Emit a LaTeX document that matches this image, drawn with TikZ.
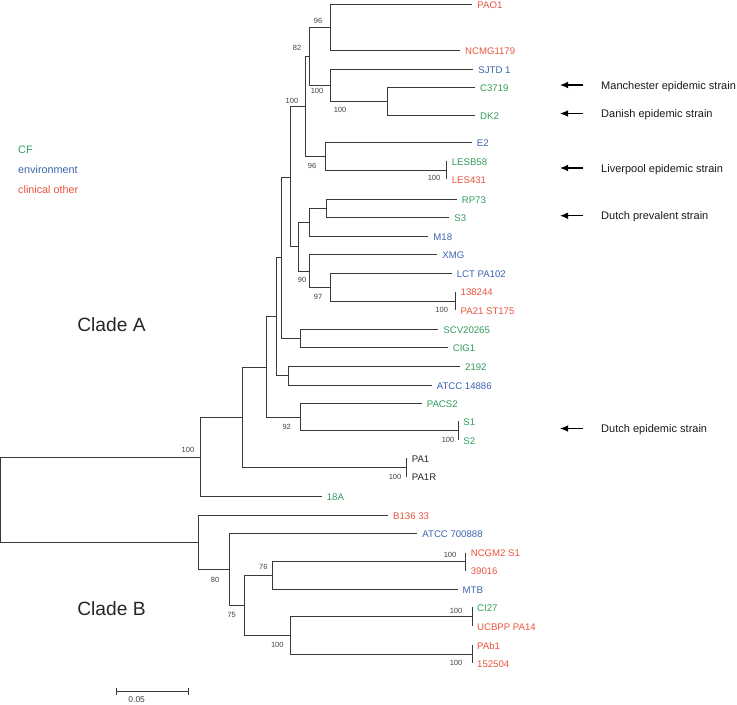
\documentclass[tikz,border=0pt]{standalone}
\usepackage{fontspec}
\setmainfont{Liberation Sans}
\usepackage{xcolor}
\usepackage{tikz}
\usetikzlibrary{arrows.meta,calc}
\definecolor{cfgreen}{HTML}{2F9A5C}
\definecolor{envblue}{HTML}{3A62B0}
\definecolor{clinred}{HTML}{E9533D}
\definecolor{treegray}{HTML}{3A3A3A}
\tikzset{
  branch/.style={draw=treegray, line width=0.6pt},
  leaf/.style={anchor=west, inner xsep=4.2pt, inner ysep=0pt, text height=0.72em,
    text depth=0pt, font=\fontsize{8.2}{9}\selectfont},
  cf/.style={leaf, text=cfgreen},
  env/.style={leaf, text=envblue},
  clin/.style={leaf, text=clinred},
  plain/.style={leaf, text=black!85},
  boot/.style={inner sep=0pt, text=black!75, font=\fontsize{6.4}{7}\selectfont},
  strainlbl/.style={anchor=west, inner sep=0pt, text height=0.72em, text depth=0pt,
    text=black!90, font=\fontsize{9.4}{11}\selectfont},
  strainarrow/.style={-{Latex[length=2.4mm,width=2mm]}, line width=1pt, draw=black},
  clade/.style={inner sep=0pt, text=black!85, font=\fontsize{16.4}{18}\selectfont},
  legendlbl/.style={anchor=west, inner sep=0pt, text height=0.72em, text depth=0pt,
    font=\fontsize{9.2}{11}\selectfont}
}
\begin{document}
\begin{tikzpicture}[x=0.03cm, y=-0.03cm]
    \useasboundingbox (0,0) rectangle (737,704);

    % internal nodes of the tree
    \coordinate (root) at (0,499.5);
    \coordinate (cladeA) at (200,457.1);
    \coordinate (cladeB) at (198,542);
    \coordinate (nU) at (242.7,417.5);
    \coordinate (nV) at (266.7,367.5);
    \coordinate (nW) at (276.7,316.6);
    \coordinate (nZ) at (281.7,257.7);
    \coordinate (nY) at (290,177);
    \coordinate (nX) at (305,106.5);
    \coordinate (n82) at (309,56);
    \coordinate (n96) at (330,27.4);
    \coordinate (n100a) at (330,85);
    \coordinate (n100b) at (387,101.7);
    \coordinate (n96e) at (325.7,156.5);
    \coordinate (nQ) at (298,246.5);
    \coordinate (nP) at (309.3,222.2);
    \coordinate (nRS) at (326,208.5);
    \coordinate (n90) at (309.3,270.9);
    \coordinate (n97) at (330,287.4);
    \coordinate (nSCV) at (300,338.2);
    \coordinate (n2192) at (288.3,375.5);
    \coordinate (n92) at (300,416.9);
    \coordinate (n80) at (229,569.2);
    \coordinate (n75) at (244,605.5);
    \coordinate (n76) at (272,575.5);
    \coordinate (n100c) at (290,635.5);

    % leaves
    \node[clin] (pao1) at (472.3,4) {PAO1};
    \node[clin] (ncmg) at (460,50.7) {NCMG1179};
    \node[env] (sjtd) at (473.3,69.3) {SJTD 1};
    \node[cf] (c3719) at (475,87.7) {C3719};
    \node[cf] (dk2) at (475,115.7) {DK2};
    \node[env] (e2) at (471.7,142.7) {E2};
    \node[cf] (lesb58) at (446.7,161.3) {LESB58};
    \node[clin] (les431) at (446.7,179.3) {LES431};
    \node[cf] (rp73) at (456.7,199.3) {RP73};
    \node[cf] (s3) at (449.3,217.7) {S3};
    \node[env] (m18) at (428.3,236) {M18};
    \node[env] (xmg) at (437.3,254.3) {XMG};
    \node[env] (lct) at (451.7,273.3) {LCT PA102};
    \node[clin] (p138) at (455.5,291.7) {138244};
    \node[clin] (pa21) at (455.5,310) {PA21 ST175};
    \node[cf] (scv) at (438.3,329) {SCV20265};
    \node[cf] (cig1) at (447.7,347.3) {CIG1};
    \node[cf] (p2192) at (460,366) {2192};
    \node[env] (atcc14886) at (431.7,385) {ATCC 14886};
    \node[cf] (pacs2) at (421.7,403.3) {PACS2};
    \node[cf] (s1) at (458.3,421) {S1};
    \node[cf] (s2) at (458.3,440) {S2};
    \node[plain] (pa1) at (406.7,458.3) {PA1};
    \node[plain] (pa1r) at (406.7,476.7) {PA1R};
    \node[cf] (p18a) at (321.7,496.7) {18A};
    \node[clin] (b136) at (388,515) {B136 33};
    \node[env] (atcc700888) at (417.3,533.3) {ATCC 700888};
    \node[clin] (ncgm2) at (465.7,552.7) {NCGM2 S1};
    \node[clin] (p39016) at (465.7,570.7) {39016};
    \node[env] (mtb) at (457.5,589.3) {MTB};
    \node[cf] (ci27) at (472,607.3) {CI27};
    \node[clin] (ucbpp) at (472,626) {UCBPP PA14};
    \node[clin] (pab1) at (472,645) {PAb1};
    \node[clin] (p152504) at (472,663.3) {152504};

    % identical pairs
    \foreach \a/\b in {lesb58/les431,p138/pa21,s1/s2,pa1/pa1r,ncgm2/p39016,ci27/ucbpp,pab1/p152504}
        \draw[branch] (\a.west) -- (\b.west);
    \coordinate (les) at ($(lesb58.west)!0.5!(les431.west)$);
    \coordinate (pr138) at ($(p138.west)!0.5!(pa21.west)$);
    \coordinate (prS) at ($(s1.west)!0.5!(s2.west)$);
    \coordinate (prPA1) at ($(pa1.west)!0.5!(pa1r.west)$);
    \coordinate (prNC) at ($(ncgm2.west)!0.5!(p39016.west)$);
    \coordinate (prCI) at ($(ci27.west)!0.5!(ucbpp.west)$);
    \coordinate (prPAb) at ($(pab1.west)!0.5!(p152504.west)$);

    % branches between internal nodes
    \foreach \p/\c in {root/cladeA,root/cladeB,cladeA/nU,nU/nV,nU/prPA1,nV/nW,nV/n92,nW/nZ,nW/n2192,
                       nZ/nY,nZ/nSCV,nY/nX,nY/nQ,nX/n82,nX/n96e,n82/n96,n82/n100a,n100a/n100b,
                       n96e/les,nQ/nP,nQ/n90,nP/nRS,n90/n97,n97/pr138,n92/prS,
                       cladeB/n80,n80/n75,n75/n76,n75/n100c,n76/prNC,n100c/prCI,n100c/prPAb}
        \draw[branch] (\p) |- (\c);
    % branches to leaves
    \foreach \p/\c in {n96/pao1,n96/ncmg,n100a/sjtd,n100b/c3719,n100b/dk2,n96e/e2,nRS/rp73,nRS/s3,
                       nP/m18,n90/xmg,n97/lct,nSCV/scv,nSCV/cig1,n2192/p2192,n2192/atcc14886,
                       n92/pacs2,cladeA/p18a,cladeB/b136,n80/atcc700888,n76/mtb}
        \draw[branch] (\p) |- (\c.west);

    % bootstrap values
    \node[boot] (bs1) at (318,21) {96};
    \node[boot] (bs2) at (297,48) {82};
    \node[boot] (bs3) at (317,91) {100};
    \node[boot] (bs4) at (340,110) {100};
    \node[boot] (bs5) at (292,101) {100};
    \node[boot] (bs6) at (312,166) {96};
    \node[boot] (bs7) at (434,178) {100};
    \node[boot] (bs8) at (302,280) {90};
    \node[boot] (bs9) at (318,297) {97};
    \node[boot] (bs10) at (441.7,310) {100};
    \node[boot] (bs11) at (286.7,427) {92};
    \node[boot] (bs12) at (448,440) {100};
    \node[boot] (bs13) at (395,477) {100};
    \node[boot] (bs14) at (188,450) {100};
    \node[boot] (bs15) at (215,580) {80};
    \node[boot] (bs16) at (231.7,615) {75};
    \node[boot] (bs17) at (263.3,566.7) {76};
    \node[boot] (bs18) at (450,555) {100};
    \node[boot] (bs19) at (277.3,645) {100};
    \node[boot] (bs20) at (456,611) {100};
    \node[boot] (bs21) at (456,663) {100};

    % strains
    \foreach \y/\nm/\txt in {85/manch/Manchester epidemic strain,113.5/danish/Danish epidemic strain,
                             168/liverp/Liverpool epidemic strain,215.7/dprev/Dutch prevalent strain,
                             428.5/depid/Dutch epidemic strain}{
        \node[strainlbl] (\nm) at (601,\y) {\txt};
        \coordinate (\nm tail) at (583.3,\y);
        \coordinate (\nm head) at (560,\y);
        \draw[strainarrow] (\nm tail) -- (\nm head);
    }

    % legend and clades
    \node[legendlbl, text=cfgreen] (lgcf) at (18,149) {CF};
    \node[legendlbl, text=envblue] (lgenv) at (18,169) {environment};
    \node[legendlbl, text=clinred] (lgclin) at (18,189) {clinical other};
    \node[clade] (cladeAlbl) at (111.5,325) {Clade A};
    \node[clade] (cladeBlbl) at (111.5,608.3) {Clade B};

    % scale bar
    \coordinate (sbl) at (116,691.5);
    \coordinate (sbr) at (188.3,691.5);
    \draw[branch, {Bar[width=1.9mm]}-{Bar[width=1.9mm]}] (sbl) -- (sbr);
    \node[boot, font=\fontsize{7.2}{8}\selectfont, anchor=south] (sblbl) at (136.7,703) {0.05};
\end{tikzpicture}
\end{document}
